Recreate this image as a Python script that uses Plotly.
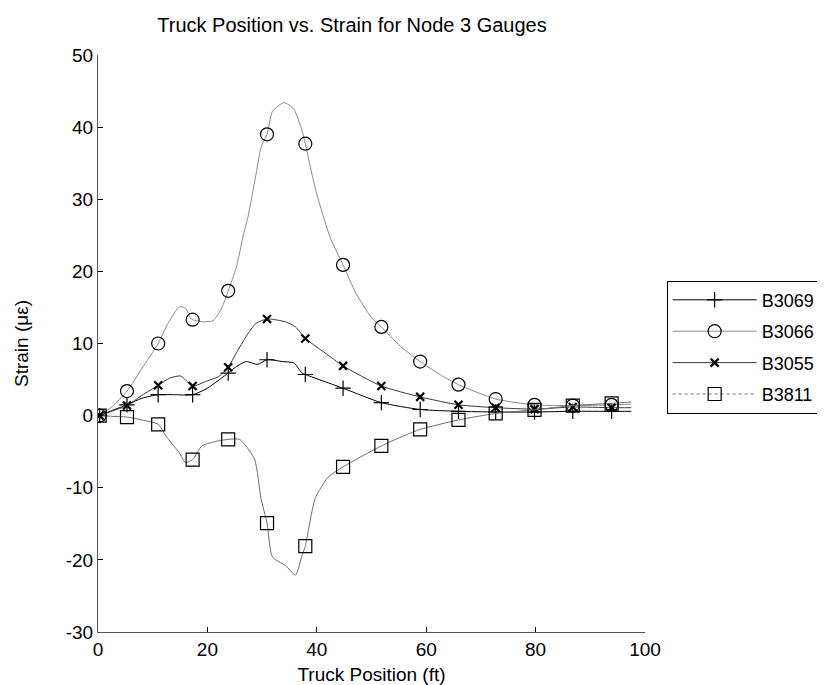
import plotly.graph_objects as go

# ---- data ----
marker_x = [0.3, 5.3, 11.0, 17.3, 23.8, 30.9, 37.9, 44.8, 51.8, 58.9, 65.9, 72.7, 79.8, 86.8, 93.9]

b3069_mk = [0, 1.5, 2.9, 2.9, 5.9, 7.75, 5.7, 3.8, 1.8, 0.85, 0.6, 0.5, 0.5, 0.6, 0.6]
b3066_mk = [0, 3.4, 10.0, 13.3, 17.3, 39.0, 37.7, 20.9, 12.3, 7.5, 4.3, 2.3, 1.5, 1.4, 1.5]
b3055_mk = [0, 1.4, 4.2, 4.1, 6.7, 13.4, 10.7, 6.9, 4.1, 2.6, 1.5, 1.1, 0.9, 1.2, 1.1]
b3811_mk = [0, -0.2, -1.2, -6.1, -3.3, -14.9, -18.1, -7.1, -4.2, -1.9, -0.6, 0.3, 0.8, 1.4, 1.7]

b3069_x = [0, 0.3, 2.5, 5.3, 8, 11, 14, 17.3, 20, 23.8, 25.3, 27.1, 29.2, 30.9, 33.7, 35.8, 37.3, 37.9,
           44.8, 51.8, 58.9, 65.9, 72.7, 79.8, 86.8, 93.9, 97.5]
b3069_y = [0, 0, 0.7, 1.5, 2.4, 2.9, 2.9, 2.9, 3.8, 5.9, 6.8, 7.5, 7.1, 7.75, 7.5, 7.3, 5.9, 5.7,
           3.8, 1.8, 0.85, 0.6, 0.5, 0.5, 0.6, 0.6, 0.6]

b3066_x = [0, 0.3, 2.5, 5.3, 8, 11, 12.8, 14.9, 16, 16.9, 17.3, 19.3, 21.1, 22.6, 23.8, 25.3, 26.5, 27.4,
           28.9, 29.8, 30.9, 31.9, 34, 35.8, 37.3, 37.9, 39.1, 40, 42.4, 44.8, 47.2, 49.9, 51.8, 55.3,
           58.9, 62.5, 65.9, 72.7, 79.8, 86.8, 93.9, 97.5]
b3066_y = [0, 0, 1.2, 3.4, 6.5, 10.0, 12.8, 15.1, 14.9, 13.5, 13.3, 13.0, 13.2, 14.9, 17.3, 20.6, 24.8, 27.5,
           33.5, 37.2, 39.0, 42.2, 43.4, 42.5, 39.5, 37.7, 33.5, 30.7, 24.8, 20.9, 16.9, 13.7, 12.3, 9.6,
           7.5, 5.7, 4.3, 2.3, 1.5, 1.4, 1.5, 1.6]

b3055_x = [0, 0.3, 2.5, 5.3, 8, 11, 13.1, 15.1, 17.3, 19.9, 22, 23.8, 25.3, 27.1, 28.9, 30.9, 34.3, 36.1,
           37.9, 41.5, 44.8, 51.8, 58.9, 65.9, 72.7, 79.8, 86.8, 93.9, 97.5]
b3055_y = [0, 0, 0.6, 1.4, 2.8, 4.2, 5.2, 5.5, 4.1, 4.8, 5.4, 6.7, 8.7, 11.0, 12.8, 13.4, 13.0, 12.3,
           10.7, 8.7, 6.9, 4.1, 2.6, 1.5, 1.1, 0.9, 1.2, 1.1, 1.1]

b3811_x = [0, 0.3, 2.5, 5.3, 8, 11, 12.4, 14.8, 16, 17.3, 19, 22, 23.8, 25.9, 28.6, 29.8, 30.9, 31.9,
           34.3, 36.1, 37.3, 37.9, 39.7, 42, 44.8, 51.8, 55.9, 58.9, 65.9, 72.7, 79.8, 86.8, 93.9, 97.5]
b3811_y = [0, 0, -0.1, -0.2, -0.6, -1.2, -2.8, -5.1, -6.5, -6.1, -4.2, -3.5, -3.3, -3.3, -6.0, -11.5, -14.9, -19.6,
           -20.8, -22.1, -19.4, -18.1, -11.5, -8.6, -7.1, -4.2, -2.8, -1.9, -0.6, 0.3, 0.8, 1.4, 1.7, 1.9]

names = ["B3069", "B3066", "B3055", "B3811"]
x_ticks = [0, 20, 40, 60, 80, 100]
y_ticks = [-30, -20, -10, 0, 10, 20, 30, 40, 50]

line_x = [b3069_x, b3066_x, b3055_x, b3811_x]
line_y = [b3069_y, b3066_y, b3055_y, b3811_y]
mk_y = [b3069_mk, b3066_mk, b3055_mk, b3811_mk]

colors = ["#000000", "#8a8a8a", "#3a3a3a", "#6e6e6e"]
symbols = ["cross-thin-open", "circle-open", "x-thin-open", "square-open"]
msizes = [11, 13, 8, 13]
mwidths = [1.2, 1.2, 2.2, 1.2]
dashes = ["solid", "solid", "solid", "dot"]

FONT = "Liberation Sans, Arial, Helvetica, sans-serif"

fig = go.Figure()
for i in range(4):
    fig.add_trace(go.Scatter(
        x=line_x[i], y=line_y[i], mode="lines",
        line=dict(color=colors[i], width=1, shape="spline", smoothing=0.6),
        showlegend=False, hoverinfo="skip"))
    fig.add_trace(go.Scatter(
        x=marker_x, y=mk_y[i], mode="markers",
        marker=dict(symbol=symbols[i], size=msizes[i], color="#000000",
                    line=dict(color="#000000", width=mwidths[i])),
        showlegend=False, hoverinfo="skip"))
    # legend entry
    fig.add_trace(go.Scatter(
        x=[None], y=[None], mode="lines+markers", name=names[i], legendgroup=names[i],
        line=dict(color=colors[i], width=1, dash=dashes[i]),
        marker=dict(symbol=symbols[i], size=msizes[i], color="#000000",
                    line=dict(color="#000000", width=mwidths[i]))))

fig.update_layout(
    width=825, height=685,
    paper_bgcolor="white", plot_bgcolor="white",
    margin=dict(l=89, r=180, t=47, b=58),
    font=dict(family=FONT, size=19, color="black"),
    title=dict(text="Truck Position vs. Strain for Node 3 Gauges",
               x=344 / 825, xanchor="center", y=1 - 17 / 685, yanchor="middle",
               font=dict(family=FONT, size=20, color="black")),
    legend=dict(x=(667 - 89) / 556, y=0.609, xanchor="left", yanchor="top",
                bordercolor="black", borderwidth=1, bgcolor="white",
                font=dict(family=FONT, size=18, color="black"),
                itemwidth=84, tracegroupgap=5),
    xaxis=dict(range=[0, 100], tickvals=x_ticks, ticktext=[str(v) for v in x_ticks],
               showgrid=False, zeroline=False,
               showline=True, linecolor="#555555", linewidth=1,
               ticks="inside", ticklen=5, tickcolor="black",
               title=dict(text="Truck Position (ft)", font=dict(size=19, color="black"), standoff=8)),
    yaxis=dict(range=[-30, 50], tickvals=y_ticks, ticktext=[str(v) for v in y_ticks],
               showgrid=False, zeroline=False,
               showline=True, linecolor="#555555", linewidth=1,
               ticks="inside", ticklen=5, tickcolor="black",
               title=dict(text="Strain (με)", font=dict(size=19, color="black"), standoff=32)),
)

fig.write_html("out.html")
